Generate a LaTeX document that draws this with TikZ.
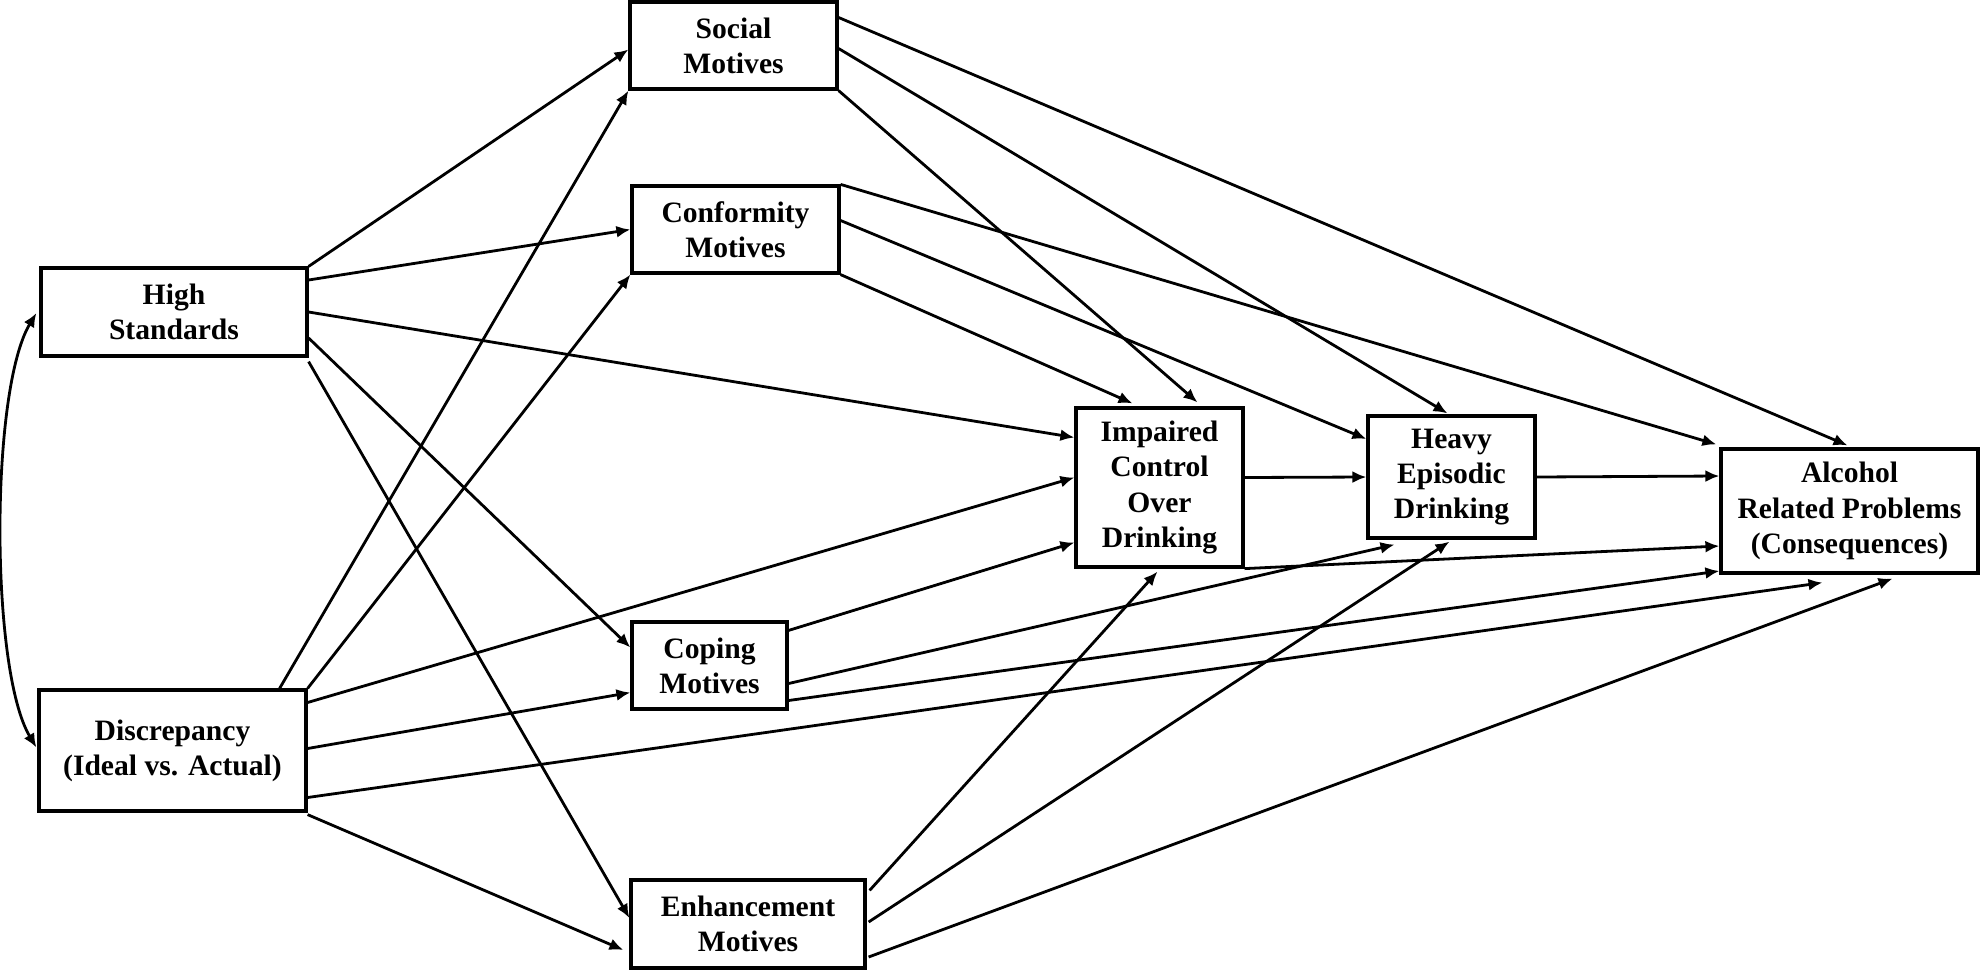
\documentclass[tikz,border=0pt]{standalone}
\usepackage{fontspec}
\setmainfont{Liberation Serif}
\usetikzlibrary{arrows.meta, calc}

\begin{document}
\begin{tikzpicture}[
    x=0.5pt, y=-0.5pt,
    box/.style={draw, line width=1.6pt, align=center, inner sep=0pt,
        font=\bfseries\fontsize{14.8pt}{17.6pt}\selectfont},
    arrow/.style={-{Latex[length=7pt, width=6pt]}, line width=1.4pt},
    twoway/.style={{Latex[length=7pt, width=6pt]}-{Latex[length=7pt, width=6pt]}, line width=1.4pt}
]
    \useasboundingbox (0,0) rectangle (1980,970);

    % Preditores
    \node (hs) [box, minimum width=133pt, minimum height=44pt] at (174,312) {High\\Standards};
    \node (dis) [box, minimum width=133.5pt, minimum height=60.5pt] at (172.5,750.5) {Discrepancy\\(Ideal vs. Actual)};

    % Motivos
    \node (soc) [box, minimum width=103.5pt, minimum height=43.5pt] at (733.5,45.5) {Social\\Motives};
    \node (conf) [box, minimum width=103.5pt, minimum height=43.5pt] at (735.5,229.5) {Conformity\\Motives};
    \node (cop) [box, minimum width=77.5pt, minimum height=43.5pt] at (709.5,665.5) {Coping\\Motives};
    \node (enh) [box, minimum width=117pt, minimum height=44pt] at (748,924) {Enhancement\\Motives};

    % Resultados
    \node (imp) [box, minimum width=83.5pt, minimum height=79.5pt] at (1159.5,487.5) {Impaired\\Control\\Over\\Drinking};
    \node (heavy) [box, minimum width=83.5pt, minimum height=61pt] at (1451.5,477) {Heavy\\Episodic\\Drinking};
    \node (alc) [box, minimum width=128.5pt, minimum height=62pt] at (1849.5,511) {Alcohol\\Related Problems\\(Consequences)};

    % Correlacao
    \draw[twoway] ($(hs.west)+(-3,1)$) .. controls (-10,390) and (-10,670) .. ($(dis.west)+(-1,-3)$);

    % High Standards
    \draw[arrow] (hs.north east) -- ($(soc.west)+(0,4)$);
    \draw[arrow] ($(hs.east)+(0,-32)$) -- (conf.west);
    \draw[arrow] (hs.east) -- ($(imp.west)+(0,-50)$);
    \draw[arrow] ($(hs.east)+(0,26)$) -- ($(cop.west)+(0,-18)$);
    \draw[arrow] ($(hs.south east)+(0,4)$) -- ($(enh.west)+(0,-6)$);

    % Discrepancy
    \draw[arrow] ($(dis.north east)+(-28,0)$) -- (soc.south west);
    \draw[arrow] (dis.north east) -- (conf.south west);
    \draw[arrow] ($(dis.east)+(0,-48)$) -- ($(imp.west)+(0,-10)$);
    \draw[arrow] ($(dis.east)+(0,-2)$) -- ($(cop.west)+(0,27)$);
    \draw[arrow] ($(dis.east)+(0,47)$) -- ($(alc.south)+(-27,8)$);
    \draw[arrow] ($(dis.south east)+(0,2)$) -- ($(enh.west)+(-6,26)$);

    % Social
    \draw[arrow] ($(soc.east)+(0,-28)$) -- ($(alc.north)+(-2,-2)$);
    \draw[arrow] ($(soc.east)+(0,3)$) -- ($(heavy.north)+(-4,-1)$);
    \draw[arrow] (soc.south east) -- ($(imp.north)+(38,-4)$);

    % Conformity
    \draw[arrow] (conf.north east) -- ($(alc.north west)+(-3,-3)$);
    \draw[arrow] ($(conf.east)+(0,-9)$) -- ($(heavy.west)+(0,-38)$);
    \draw[arrow] (conf.south east) -- ($(imp.north)+(-27,-3)$);

    % Impaired Control / Heavy Episodic
    \draw[arrow] ($(imp.east)+(0,-10)$) -- (heavy.west);
    \draw[arrow] (imp.south east) -- ($(alc.west)+(0,35)$);
    \draw[arrow] (heavy.east) -- ($(alc.west)+(0,-35)$);

    % Coping
    \draw[arrow] ($(cop.north east)+(0,10)$) -- ($(imp.west)+(0,55)$);
    \draw[arrow] ($(cop.east)+(0,18)$) -- ($(heavy.south)+(-57,5)$);
    \draw[arrow] ($(cop.east)+(0,35)$) -- ($(alc.west)+(0,60)$);

    % Enhancement
    \draw[arrow] ($(enh.north east)+(3,12)$) -- ($(imp.south)+(-2,3)$);
    \draw[arrow] ($(enh.east)+(2,-2)$) -- ($(heavy.south)+(-2,2)$);
    \draw[arrow] ($(enh.east)+(2,33)$) -- ($(alc.south)+(43,4)$);

\end{tikzpicture}
\end{document}
